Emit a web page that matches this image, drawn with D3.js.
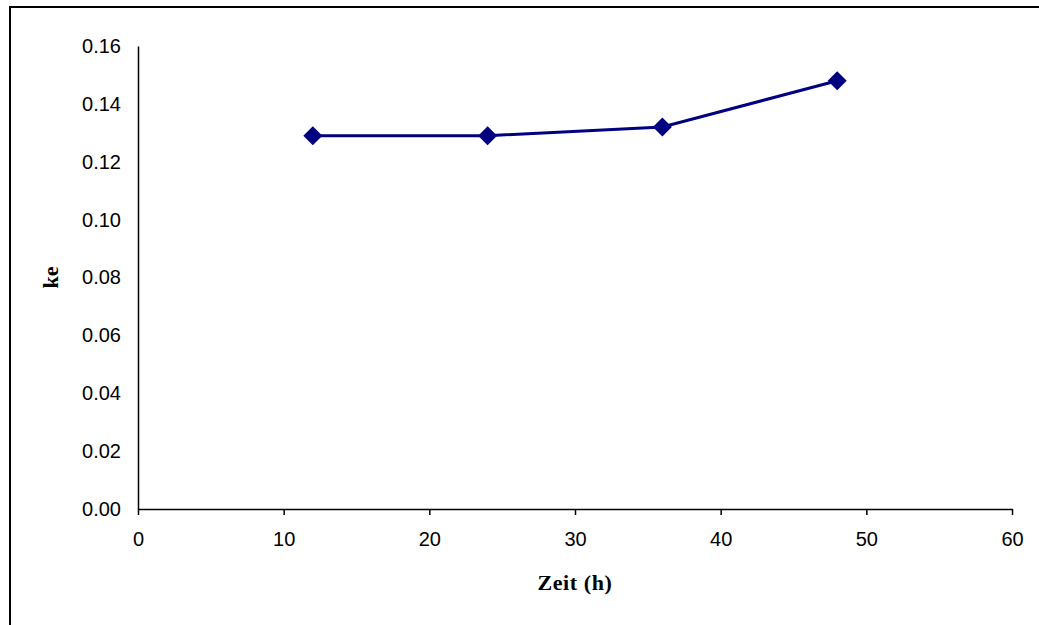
<!DOCTYPE html>
<html>
<head>
<meta charset="utf-8">
<script src="https://cdn.jsdelivr.net/npm/d3@7"></script>
<style>
  html, body { margin: 0; padding: 0; background: #fff; }
  svg { display: block; }
</style>
</head>
<body>
<svg id="chart" width="1039" height="625"></svg>
<script>
// Elimination constant ke over time
const hours = [12, 24, 36, 48];
const keValues = [0.129, 0.129, 0.132, 0.148];
const xTicks = [0, 10, 20, 30, 40, 50, 60];
const yTicks = [0, 0.02, 0.04, 0.06, 0.08, 0.10, 0.12, 0.14, 0.16];
const xTitle = "Zeit (h)";
const yTitle = "ke";

const svg = d3.select("#chart");

// Outer chart frame
svg.append("rect")
  .attr("x", 10).attr("y", 7)
  .attr("width", 1045).attr("height", 640)
  .attr("fill", "none").attr("stroke", "#000").attr("stroke-width", 2);

const plot = { left: 138, right: 1012, top: 46, bottom: 509 };

const x = d3.scaleLinear().domain([0, 60]).range([plot.left, plot.right]);
const y = d3.scaleLinear().domain([0, 0.16]).range([plot.bottom, plot.top]);

// X axis with outward ticks
const xAxis = svg.append("g")
  .attr("transform", `translate(0,${plot.bottom})`)
  .call(d3.axisBottom(x).tickValues(xTicks).tickSize(6).tickSizeOuter(0).tickPadding(17).tickFormat(d3.format("d")));
xAxis.select(".domain").attr("stroke", "#000").attr("stroke-width", 1.5);
xAxis.selectAll(".tick line").attr("stroke", "#000").attr("stroke-width", 1.5);
xAxis.selectAll(".tick text")
  .attr("font-family", "'Liberation Sans', Arial, sans-serif")
  .attr("font-size", 20).attr("fill", "#000");

// Y axis without tick marks
const yAxis = svg.append("g")
  .attr("transform", `translate(${plot.left},0)`)
  .call(d3.axisLeft(y).tickValues(yTicks).tickSize(0).tickSizeOuter(0).tickPadding(17).tickFormat(d3.format(".2f")));
yAxis.select(".domain").attr("stroke", "#000").attr("stroke-width", 1.5);
yAxis.selectAll(".tick text")
  .attr("font-family", "'Liberation Sans', Arial, sans-serif")
  .attr("font-size", 20).attr("fill", "#000");

// Axis titles
svg.append("text")
  .attr("x", (plot.left + plot.right) / 2).attr("y", 590)
  .attr("text-anchor", "middle")
  .attr("font-family", "'Liberation Serif', 'Times New Roman', serif")
  .attr("font-weight", "bold").attr("font-size", 22)
  .attr("letter-spacing", 0.6)
  .text(xTitle);

svg.append("text")
  .attr("transform", `translate(58,${(plot.top + plot.bottom) / 2}) rotate(-90)`)
  .attr("text-anchor", "middle")
  .attr("font-family", "'Liberation Serif', 'Times New Roman', serif")
  .attr("font-weight", "bold").attr("font-size", 22)
  .text(yTitle);

// Data series
const data = hours.map((h, i) => ({ h, v: keValues[i] }));

svg.append("path")
  .datum(data)
  .attr("fill", "none")
  .attr("stroke", "#000080")
  .attr("stroke-width", 3)
  .attr("d", d3.line().x(d => x(d.h)).y(d => y(d.v)));

const diamond = d3.symbol().type(d3.symbolDiamond2).size(230);
svg.selectAll("path.marker")
  .data(data)
  .join("path")
  .attr("class", "marker")
  .attr("transform", d => `translate(${x(d.h)},${y(d.v)})`)
  .attr("d", diamond)
  .attr("fill", "#000080");
</script>
</body>
</html>
